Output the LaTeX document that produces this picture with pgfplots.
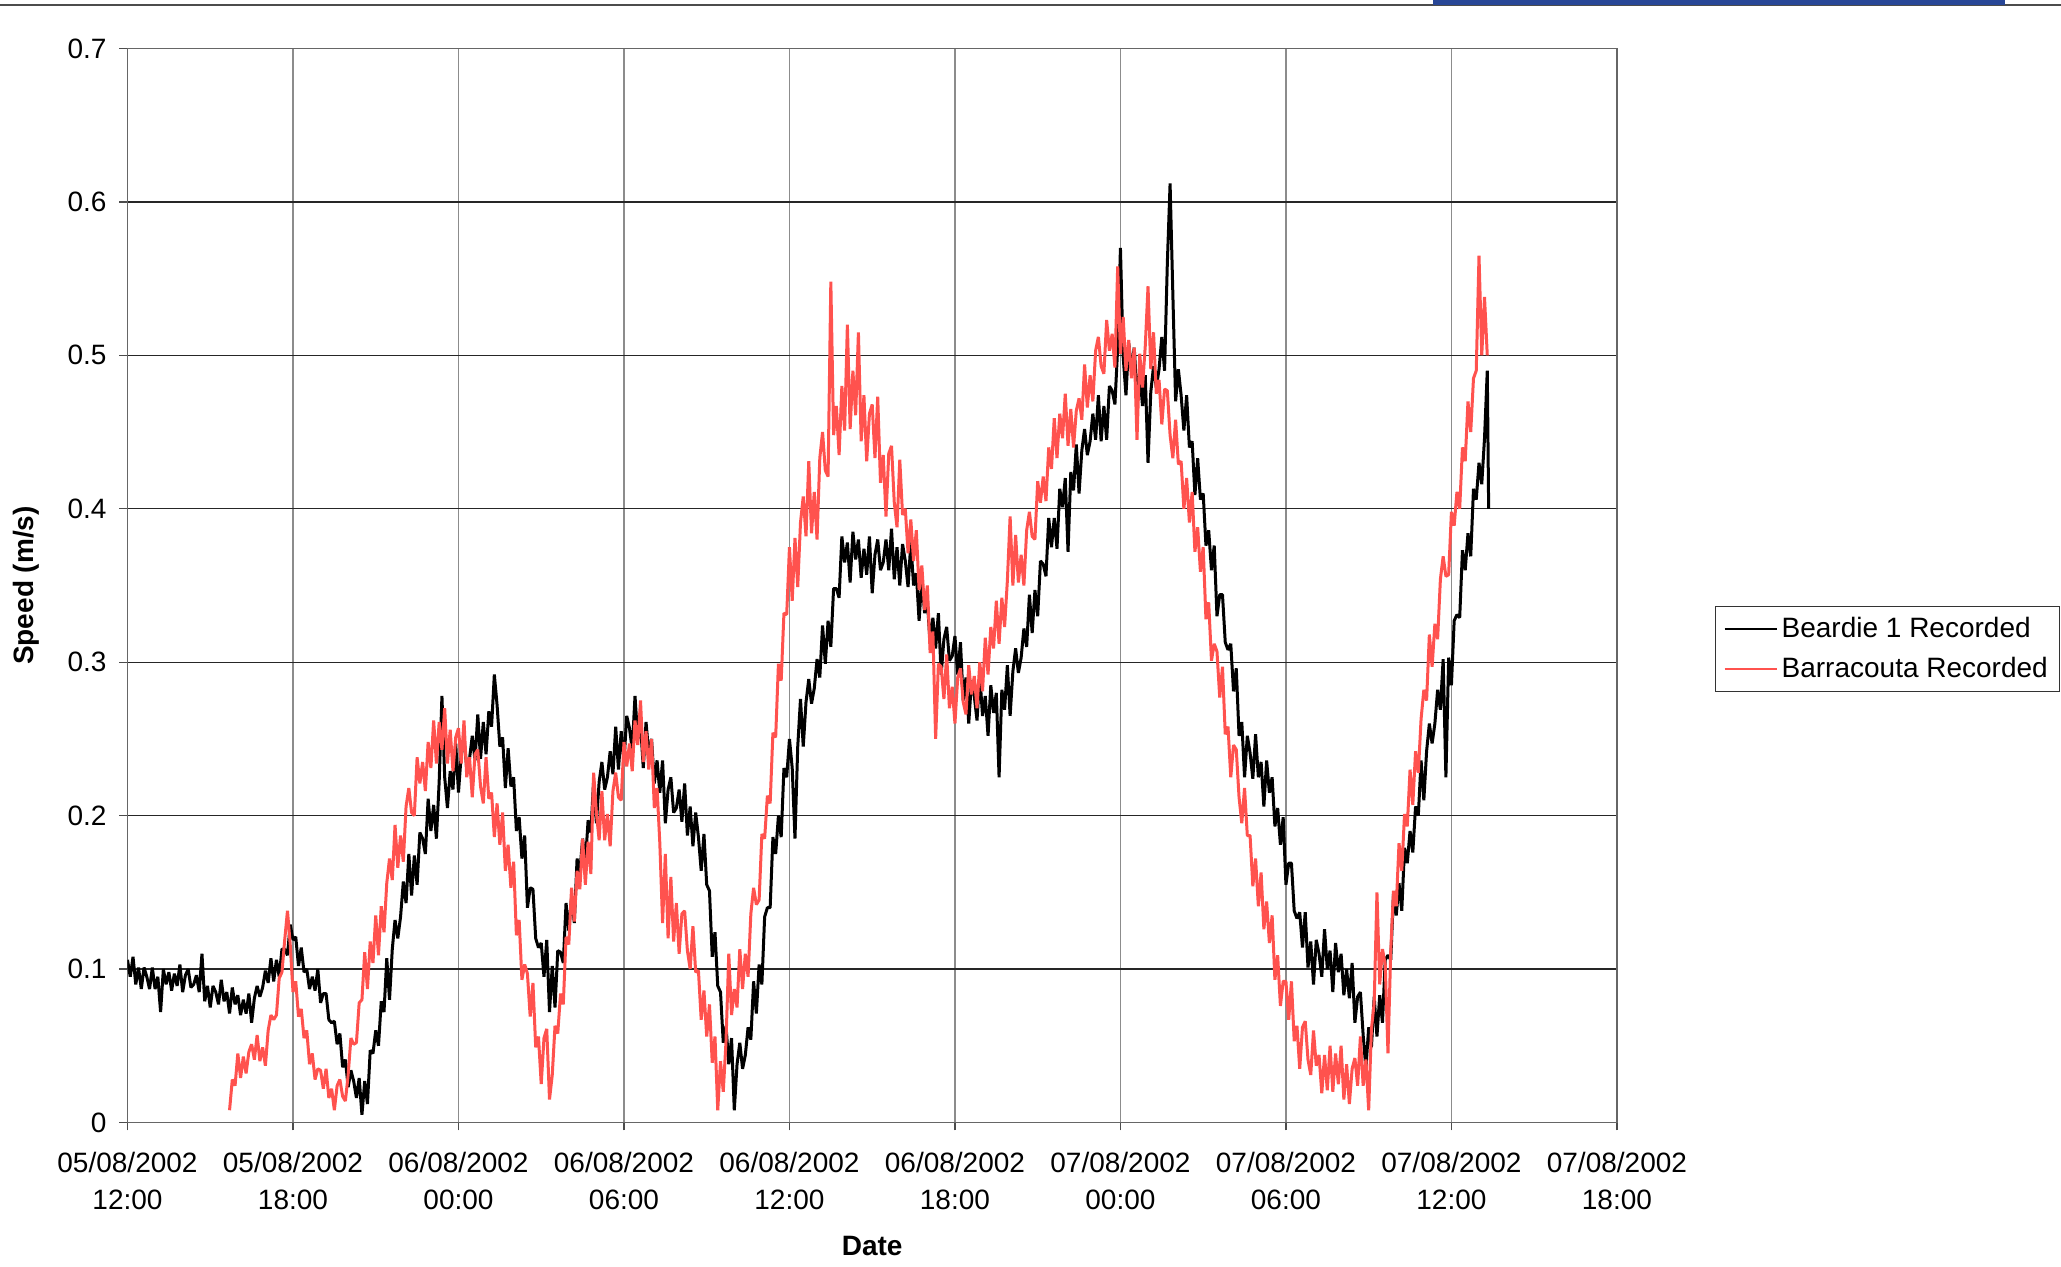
\documentclass[border=0pt]{standalone}
\usepackage{pgfplots}
\pgfplotsset{compat=1.18}
\usepackage{fontspec}
\setmainfont{Liberation Sans}
\definecolor{bredc}{RGB}{255,82,78}
\definecolor{scanblue}{RGB}{40,70,150}
\begin{document}
\begin{tikzpicture}
\path[use as bounding box] (-63.75pt,-72.25pt) rectangle (966.75pt,561.25pt);
\begin{axis}[
  at={(0pt,0pt)}, anchor=south west,
  scale only axis, width=744.7pt, height=537pt,
  xmin=0, xmax=54, ymin=0, ymax=0.7,
  xtick={0,6,...,54},
  xticklabels={{05/08/2002\\12:00},{05/08/2002\\18:00},{06/08/2002\\00:00},{06/08/2002\\06:00},{06/08/2002\\12:00},{06/08/2002\\18:00},{07/08/2002\\00:00},{07/08/2002\\06:00},{07/08/2002\\12:00},{07/08/2002\\18:00}},
  xticklabel style={align=center, font=\fontsize{14}{18.5}\selectfont, yshift=-7.5pt},
  ytick={0,0.1,...,0.71},
  yticklabels={0,0.1,0.2,0.3,0.4,0.5,0.6,0.7},
  yticklabel style={font=\fontsize{14}{17}\selectfont, xshift=-3pt},
  tick pos=left, tick align=outside, major tick length=4pt,
  tick style={black!70, line width=0.6pt},
  xmajorgrids, ymajorgrids,
  x grid style={black!45, line width=0.6pt},
  y grid style={black!85, line width=0.6pt},
  axis line style={black!60, line width=0.6pt},
  xlabel={\textbf{Date}},
  ylabel={\textbf{Speed (m/s)}},
  xlabel style={at={(axis description cs:0.5,-0.115)}, anchor=center, font=\fontsize{14}{17}\selectfont},
  ylabel style={at={(axis description cs:-0.0681,0.5)}, anchor=center, font=\fontsize{14}{17}\selectfont},
  legend style={at={(1.0659,0.4809)}, anchor=north west, draw=black!80, line width=0.6pt,
    font=\fontsize{14}{17}\selectfont, inner xsep=4pt, inner ysep=3.5pt, row sep=4.3pt, cells={anchor=west}},
  legend image code/.code={\draw[#1, line width=1pt] (0pt,0pt) -- (26pt,0pt);},
]
\addplot[black, line width=1.5pt, line join=bevel] coordinates {
(0.0,0.106) (0.1,0.095) (0.2,0.108) (0.3,0.090) (0.4,0.101) (0.5,0.087) (0.6,0.101) (0.7,0.095) (0.8,0.087) (0.9,0.101)
(1.0,0.087) (1.1,0.095) (1.2,0.072) (1.3,0.100) (1.4,0.090) (1.5,0.098) (1.6,0.086) (1.7,0.097) (1.8,0.089) (1.9,0.103)
(2.0,0.085) (2.1,0.096) (2.2,0.100) (2.3,0.088) (2.4,0.090) (2.5,0.096) (2.6,0.085) (2.7,0.110) (2.8,0.079) (2.9,0.089)
(3.0,0.075) (3.1,0.089) (3.2,0.085) (3.3,0.077) (3.4,0.093) (3.5,0.079) (3.6,0.085) (3.7,0.071) (3.8,0.088) (3.9,0.077)
(4.0,0.083) (4.1,0.070) (4.2,0.080) (4.3,0.071) (4.4,0.084) (4.5,0.065) (4.6,0.081) (4.7,0.089) (4.8,0.082) (4.9,0.088)
(5.0,0.099) (5.1,0.091) (5.2,0.107) (5.3,0.092) (5.4,0.106) (5.5,0.095) (5.6,0.113) (5.7,0.113) (5.8,0.109) (5.9,0.129)
(6.0,0.119) (6.1,0.121) (6.2,0.102) (6.3,0.114) (6.4,0.098) (6.5,0.100) (6.6,0.087) (6.7,0.095) (6.8,0.086) (6.9,0.100)
(7.0,0.078) (7.1,0.084) (7.2,0.084) (7.3,0.067) (7.4,0.065) (7.5,0.066) (7.6,0.051) (7.7,0.058) (7.8,0.036) (7.9,0.041)
(8.0,0.023) (8.1,0.034) (8.2,0.027) (8.3,0.016) (8.4,0.029) (8.5,0.005) (8.6,0.027) (8.7,0.012) (8.8,0.047) (8.9,0.045)
(9.0,0.060) (9.1,0.050) (9.2,0.079) (9.3,0.072) (9.4,0.107) (9.5,0.080) (9.6,0.113) (9.7,0.132) (9.8,0.120) (9.9,0.134)
(10.0,0.157) (10.1,0.143) (10.2,0.175) (10.3,0.148) (10.4,0.174) (10.5,0.155) (10.6,0.189) (10.7,0.185) (10.8,0.175) (10.9,0.211)
(11.0,0.190) (11.1,0.207) (11.2,0.185) (11.3,0.222) (11.4,0.278) (11.5,0.225) (11.6,0.205) (11.7,0.229) (11.8,0.217) (11.9,0.247)
(12.0,0.215) (12.1,0.240) (12.2,0.251) (12.3,0.231) (12.4,0.237) (12.5,0.252) (12.6,0.236) (12.7,0.266) (12.8,0.237) (12.9,0.261)
(13.0,0.240) (13.1,0.268) (13.2,0.258) (13.3,0.292) (13.4,0.272) (13.5,0.245) (13.6,0.251) (13.7,0.218) (13.8,0.244) (13.9,0.219)
(14.0,0.225) (14.1,0.190) (14.2,0.199) (14.3,0.172) (14.4,0.187) (14.5,0.140) (14.6,0.153) (14.7,0.152) (14.8,0.120) (14.9,0.114)
(15.0,0.117) (15.1,0.095) (15.2,0.119) (15.3,0.072) (15.4,0.102) (15.5,0.075) (15.6,0.112) (15.7,0.111) (15.8,0.104) (15.9,0.143)
(16.0,0.125) (16.1,0.147) (16.2,0.130) (16.3,0.172) (16.4,0.163) (16.5,0.185) (16.6,0.169) (16.7,0.197) (16.8,0.189) (16.9,0.223)
(17.0,0.195) (17.1,0.222) (17.2,0.235) (17.3,0.217) (17.4,0.225) (17.5,0.242) (17.6,0.227) (17.7,0.258) (17.8,0.230) (17.9,0.255)
(18.0,0.235) (18.1,0.265) (18.2,0.257) (18.3,0.243) (18.4,0.278) (18.5,0.250) (18.6,0.260) (18.7,0.231) (18.8,0.261) (18.9,0.240)
(19.0,0.250) (19.1,0.221) (19.2,0.236) (19.3,0.215) (19.4,0.236) (19.5,0.195) (19.6,0.217) (19.7,0.225) (19.8,0.202) (19.9,0.205)
(20.0,0.217) (20.1,0.196) (20.2,0.221) (20.3,0.187) (20.4,0.206) (20.5,0.180) (20.6,0.202) (20.7,0.186) (20.8,0.164) (20.9,0.188)
(21.0,0.155) (21.1,0.151) (21.2,0.108) (21.3,0.124) (21.4,0.089) (21.5,0.085) (21.6,0.052) (21.7,0.063) (21.8,0.038) (21.9,0.055)
(22.0,0.008) (22.1,0.038) (22.2,0.052) (22.3,0.035) (22.4,0.044) (22.5,0.062) (22.6,0.054) (22.7,0.092) (22.8,0.071) (22.9,0.103)
(23.0,0.090) (23.1,0.134) (23.2,0.140) (23.3,0.140) (23.4,0.186) (23.5,0.175) (23.6,0.200) (23.7,0.186) (23.8,0.231) (23.9,0.225)
(24.0,0.250) (24.1,0.231) (24.2,0.185) (24.3,0.245) (24.4,0.276) (24.5,0.245) (24.6,0.274) (24.7,0.289) (24.8,0.273) (24.9,0.283)
(25.0,0.302) (25.1,0.290) (25.2,0.324) (25.3,0.299) (25.4,0.327) (25.5,0.310) (25.6,0.348) (25.7,0.348) (25.8,0.342) (25.9,0.382)
(26.0,0.365) (26.1,0.378) (26.2,0.352) (26.3,0.385) (26.4,0.367) (26.5,0.380) (26.6,0.355) (26.7,0.374) (26.8,0.357) (26.9,0.382)
(27.0,0.345) (27.1,0.370) (27.2,0.380) (27.3,0.360) (27.4,0.365) (27.5,0.380) (27.6,0.360) (27.7,0.387) (27.8,0.354) (27.9,0.375)
(28.0,0.350) (28.1,0.377) (28.2,0.366) (28.3,0.349) (28.4,0.378) (28.5,0.350) (28.6,0.358) (28.7,0.327) (28.8,0.355) (28.9,0.332)
(29.0,0.340) (29.1,0.312) (29.2,0.329) (29.3,0.309) (29.4,0.332) (29.5,0.292) (29.6,0.315) (29.7,0.323) (29.8,0.301) (29.9,0.304)
(30.0,0.317) (30.1,0.292) (30.2,0.313) (30.3,0.275) (30.4,0.290) (30.5,0.260) (30.6,0.288) (30.7,0.278) (30.8,0.262) (30.9,0.292)
(31.0,0.265) (31.1,0.278) (31.2,0.252) (31.3,0.285) (31.4,0.267) (31.5,0.280) (31.6,0.225) (31.7,0.282) (31.8,0.269) (31.9,0.298)
(32.0,0.265) (32.1,0.294) (32.2,0.309) (32.3,0.293) (32.4,0.303) (32.5,0.322) (32.6,0.310) (32.7,0.344) (32.8,0.319) (32.9,0.347)
(33.0,0.330) (33.1,0.366) (33.2,0.364) (33.3,0.356) (33.4,0.394) (33.5,0.375) (33.6,0.394) (33.7,0.374) (33.8,0.413) (33.9,0.401)
(34.0,0.420) (34.1,0.372) (34.2,0.424) (34.3,0.412) (34.4,0.442) (34.5,0.410) (34.6,0.438) (34.7,0.452) (34.8,0.435) (34.9,0.444)
(35.0,0.462) (35.1,0.445) (35.2,0.474) (35.3,0.444) (35.4,0.467) (35.5,0.445) (35.6,0.480) (35.7,0.477) (35.8,0.468) (35.9,0.505)
(36.0,0.570) (36.1,0.499) (36.2,0.474) (36.3,0.508) (36.4,0.491) (36.5,0.505) (36.6,0.475) (36.7,0.489) (36.8,0.467) (36.9,0.487)
(37.0,0.430) (37.1,0.476) (37.2,0.493) (37.3,0.479) (37.4,0.491) (37.5,0.512) (37.6,0.490) (37.7,0.560) (37.8,0.612) (37.9,0.540)
(38.0,0.470) (38.1,0.491) (38.2,0.474) (38.3,0.451) (38.4,0.474) (38.5,0.440) (38.6,0.444) (38.7,0.409) (38.8,0.433) (38.9,0.406)
(39.0,0.410) (39.1,0.376) (39.2,0.386) (39.3,0.360) (39.4,0.376) (39.5,0.330) (39.6,0.344) (39.7,0.344) (39.8,0.313) (39.9,0.308)
(40.0,0.312) (40.1,0.281) (40.2,0.296) (40.3,0.252) (40.4,0.261) (40.5,0.225) (40.6,0.252) (40.7,0.241) (40.8,0.224) (40.9,0.253)
(41.0,0.225) (41.1,0.235) (41.2,0.206) (41.3,0.236) (41.4,0.215) (41.5,0.225) (41.6,0.193) (41.7,0.205) (41.8,0.181) (41.9,0.199)
(42.0,0.155) (42.1,0.169) (42.2,0.169) (42.3,0.138) (42.4,0.133) (42.5,0.137) (42.6,0.114) (42.7,0.137) (42.8,0.101) (42.9,0.118)
(43.0,0.090) (43.1,0.119) (43.2,0.110) (43.3,0.095) (43.4,0.126) (43.5,0.100) (43.6,0.112) (43.7,0.085) (43.8,0.117) (43.9,0.098)
(44.0,0.110) (44.1,0.083) (44.2,0.100) (44.3,0.081) (44.4,0.104) (44.5,0.065) (44.6,0.082) (44.7,0.085) (44.8,0.057) (44.9,0.035)
(45.0,0.062) (45.1,0.049) (45.2,0.082) (45.3,0.056) (45.4,0.083) (45.5,0.065) (45.6,0.106) (45.7,0.109) (45.8,0.106) (45.9,0.149)
(46.0,0.135) (46.1,0.156) (46.2,0.138) (46.3,0.179) (46.4,0.169) (46.5,0.190) (46.6,0.176) (46.7,0.206) (46.8,0.200) (46.9,0.236)
(47.0,0.210) (47.1,0.242) (47.2,0.260) (47.3,0.247) (47.4,0.260) (47.5,0.282) (47.6,0.269) (47.7,0.302) (47.8,0.225) (47.9,0.303)
(48.0,0.285) (48.1,0.327) (48.2,0.331) (48.3,0.329) (48.4,0.373) (48.5,0.360) (48.6,0.384) (48.7,0.369) (48.8,0.413) (48.9,0.406)
(49.0,0.430) (49.1,0.416) (49.2,0.446) (49.3,0.490) (49.35,0.400)
};
\addlegendentry{Beardie 1 Recorded}
\addplot[bredc, line width=1.5pt, line join=bevel] coordinates {
(3.7,0.008) (3.8,0.028) (3.9,0.024) (4.0,0.045) (4.1,0.029) (4.2,0.043) (4.3,0.032) (4.4,0.046) (4.5,0.051) (4.6,0.041)
(4.7,0.057) (4.8,0.040) (4.9,0.049) (5.0,0.037) (5.1,0.060) (5.2,0.070) (5.3,0.067) (5.4,0.070) (5.5,0.094) (5.6,0.098)
(5.7,0.119) (5.8,0.138) (5.9,0.116) (6.0,0.085) (6.1,0.092) (6.2,0.069) (6.3,0.074) (6.4,0.055) (6.5,0.060) (6.6,0.038)
(6.7,0.045) (6.8,0.028) (6.9,0.035) (7.0,0.034) (7.1,0.022) (7.2,0.035) (7.3,0.016) (7.4,0.022) (7.5,0.008) (7.6,0.024)
(7.7,0.028) (7.8,0.017) (7.9,0.014) (8.0,0.031) (8.1,0.055) (8.2,0.051) (8.3,0.052) (8.4,0.078) (8.5,0.080) (8.6,0.111)
(8.7,0.087) (8.8,0.118) (8.9,0.104) (9.0,0.135) (9.1,0.109) (9.2,0.141) (9.3,0.124) (9.4,0.156) (9.5,0.172) (9.6,0.158)
(9.7,0.194) (9.8,0.166) (9.9,0.187) (10.0,0.170) (10.1,0.206) (10.2,0.218) (10.3,0.202) (10.4,0.200) (10.5,0.238) (10.6,0.221)
(10.7,0.235) (10.8,0.216) (10.9,0.248) (11.0,0.231) (11.1,0.262) (11.2,0.234) (11.3,0.261) (11.4,0.243) (11.5,0.270) (11.6,0.234)
(11.7,0.256) (11.8,0.229) (11.9,0.251) (12.0,0.257) (12.1,0.234) (12.2,0.262) (12.3,0.225) (12.4,0.238) (12.5,0.212) (12.6,0.240)
(12.7,0.243) (12.8,0.219) (12.9,0.208) (13.0,0.238) (13.1,0.211) (13.2,0.215) (13.3,0.186) (13.4,0.208) (13.5,0.181) (13.6,0.202)
(13.7,0.164) (13.8,0.181) (13.9,0.153) (14.0,0.170) (14.1,0.122) (14.2,0.132) (14.3,0.093) (14.4,0.103) (14.5,0.097) (14.6,0.069)
(14.7,0.091) (14.8,0.049) (14.9,0.056) (15.0,0.025) (15.1,0.055) (15.2,0.061) (15.3,0.015) (15.4,0.031) (15.5,0.063) (15.6,0.058)
(15.7,0.084) (15.8,0.077) (15.9,0.121) (16.0,0.116) (16.1,0.153) (16.2,0.131) (16.3,0.164) (16.4,0.152) (16.5,0.185) (16.6,0.155)
(16.7,0.183) (16.8,0.162) (16.9,0.228) (17.0,0.202) (17.1,0.184) (17.2,0.216) (17.3,0.184) (17.4,0.201) (17.5,0.180) (17.6,0.216)
(17.7,0.228) (17.8,0.212) (17.9,0.210) (18.0,0.248) (18.1,0.232) (18.2,0.247) (18.3,0.229) (18.4,0.262) (18.5,0.246) (18.6,0.275)
(18.7,0.235) (18.8,0.255) (18.9,0.230) (19.0,0.250) (19.1,0.205) (19.2,0.218) (19.3,0.182) (19.4,0.130) (19.5,0.175) (19.6,0.120)
(19.7,0.160) (19.8,0.118) (19.9,0.143) (20.0,0.110) (20.1,0.136) (20.2,0.138) (20.3,0.112) (20.4,0.100) (20.5,0.128) (20.6,0.098)
(20.7,0.099) (20.8,0.067) (20.9,0.086) (21.0,0.056) (21.1,0.077) (21.2,0.039) (21.3,0.056) (21.4,0.008) (21.5,0.040) (21.6,0.020)
(21.7,0.053) (21.8,0.110) (21.9,0.070) (22.0,0.087) (22.1,0.075) (22.2,0.113) (22.3,0.087) (22.4,0.110) (22.5,0.095) (22.6,0.136)
(22.7,0.153) (22.8,0.142) (22.9,0.145) (23.0,0.188) (23.1,0.185) (23.2,0.213) (23.3,0.208) (23.4,0.254) (23.5,0.251) (23.6,0.299)
(23.7,0.288) (23.8,0.332) (23.9,0.331) (24.0,0.375) (24.1,0.340) (24.2,0.381) (24.3,0.349) (24.4,0.391) (24.5,0.408) (24.6,0.382)
(24.7,0.431) (24.8,0.384) (24.9,0.411) (25.0,0.380) (25.1,0.433) (25.2,0.450) (25.3,0.425) (25.4,0.421) (25.5,0.548) (25.6,0.448)
(25.7,0.467) (25.8,0.435) (25.9,0.480) (26.0,0.451) (26.1,0.520) (26.2,0.452) (26.3,0.490) (26.4,0.461) (26.5,0.515) (26.6,0.444)
(26.7,0.474) (26.8,0.431) (26.9,0.462) (27.0,0.468) (27.1,0.433) (27.2,0.473) (27.3,0.417) (27.4,0.435) (27.5,0.395) (27.6,0.436)
(27.7,0.441) (27.8,0.404) (27.9,0.388) (28.0,0.432) (28.1,0.396) (28.2,0.400) (28.3,0.371) (28.4,0.393) (28.5,0.366) (28.6,0.386)
(28.7,0.347) (28.8,0.363) (28.9,0.334) (29.0,0.350) (29.1,0.306) (29.2,0.320) (29.3,0.250) (29.4,0.299) (29.5,0.297) (29.6,0.276)
(29.7,0.305) (29.8,0.270) (29.9,0.284) (30.0,0.260) (30.1,0.290) (30.2,0.296) (30.3,0.274) (30.4,0.266) (30.5,0.298) (30.6,0.279)
(30.7,0.291) (30.8,0.270) (30.9,0.300) (31.0,0.281) (31.1,0.316) (31.2,0.292) (31.3,0.323) (31.4,0.309) (31.5,0.340) (31.6,0.312)
(31.7,0.342) (31.8,0.323) (31.9,0.353) (32.0,0.395) (32.1,0.350) (32.2,0.383) (32.3,0.352) (32.4,0.370) (32.5,0.350) (32.6,0.386)
(32.7,0.398) (32.8,0.382) (32.9,0.380) (33.0,0.418) (33.1,0.404) (33.2,0.421) (33.3,0.405) (33.4,0.440) (33.5,0.426) (33.6,0.459)
(33.7,0.433) (33.8,0.462) (33.9,0.446) (34.0,0.475) (34.1,0.441) (34.2,0.465) (34.3,0.440) (34.4,0.464) (34.5,0.472) (34.6,0.458)
(34.7,0.494) (34.8,0.466) (34.9,0.487) (35.0,0.470) (35.1,0.503) (35.2,0.512) (35.3,0.493) (35.4,0.488) (35.5,0.523) (35.6,0.503)
(35.7,0.514) (35.8,0.492) (35.9,0.558) (36.0,0.501) (36.1,0.525) (36.2,0.490) (36.3,0.510) (36.4,0.485) (36.5,0.505) (36.6,0.445)
(36.7,0.501) (36.8,0.479) (36.9,0.506) (37.0,0.545) (37.1,0.491) (37.2,0.515) (37.3,0.475) (37.4,0.484) (37.5,0.455) (37.6,0.478)
(37.7,0.477) (37.8,0.448) (37.9,0.433) (38.0,0.458) (38.1,0.429) (38.2,0.431) (38.3,0.400) (38.4,0.420) (38.5,0.391) (38.6,0.411)
(38.7,0.372) (38.8,0.388) (38.9,0.359) (39.0,0.375) (39.1,0.328) (39.2,0.339) (39.3,0.301) (39.4,0.312) (39.5,0.307) (39.6,0.277)
(39.7,0.297) (39.8,0.253) (39.9,0.258) (40.0,0.225) (40.1,0.246) (40.2,0.243) (40.3,0.212) (40.4,0.195) (40.5,0.218) (40.6,0.187)
(40.7,0.187) (40.8,0.154) (40.9,0.172) (41.0,0.141) (41.1,0.163) (41.2,0.126) (41.3,0.144) (41.4,0.117) (41.5,0.135) (41.6,0.093)
(41.7,0.109) (41.8,0.076) (41.9,0.092) (42.0,0.092) (42.1,0.067) (42.2,0.092) (42.3,0.053) (42.4,0.063) (42.5,0.035) (42.6,0.062)
(42.7,0.066) (42.8,0.041) (42.9,0.031) (43.0,0.060) (43.1,0.037) (43.2,0.044) (43.3,0.019) (43.4,0.044) (43.5,0.021) (43.6,0.050)
(43.7,0.020) (43.8,0.045) (43.9,0.025) (44.0,0.050) (44.1,0.015) (44.2,0.038) (44.3,0.012) (44.4,0.035) (44.5,0.042) (44.6,0.024)
(44.7,0.056) (44.8,0.024) (44.9,0.041) (45.0,0.008) (45.1,0.061) (45.2,0.078) (45.3,0.150) (45.4,0.090) (45.5,0.113) (45.6,0.103)
(45.7,0.045) (45.8,0.112) (45.9,0.151) (46.0,0.141) (46.1,0.182) (46.2,0.164) (46.3,0.201) (46.4,0.193) (46.5,0.230) (46.6,0.207)
(46.7,0.242) (46.8,0.228) (46.9,0.263) (47.0,0.282) (47.1,0.275) (47.2,0.318) (47.3,0.297) (47.4,0.325) (47.5,0.315) (47.6,0.354)
(47.7,0.369) (47.8,0.356) (47.9,0.357) (48.0,0.398) (48.1,0.389) (48.2,0.411) (48.3,0.400) (48.4,0.440) (48.5,0.431) (48.6,0.470)
(48.7,0.450) (48.8,0.485) (48.9,0.490) (49.0,0.565) (49.1,0.500) (49.2,0.538) (49.3,0.500)
};
\addlegendentry{Barracouta Recorded}
\end{axis}
\draw[black!70, line width=0.6pt] (-63.75pt,558.75pt) -- (966.75pt,558.75pt);
\fill[scanblue] (652.75pt,558.5pt) rectangle (938.75pt,561.25pt);
\end{tikzpicture}
\end{document}
